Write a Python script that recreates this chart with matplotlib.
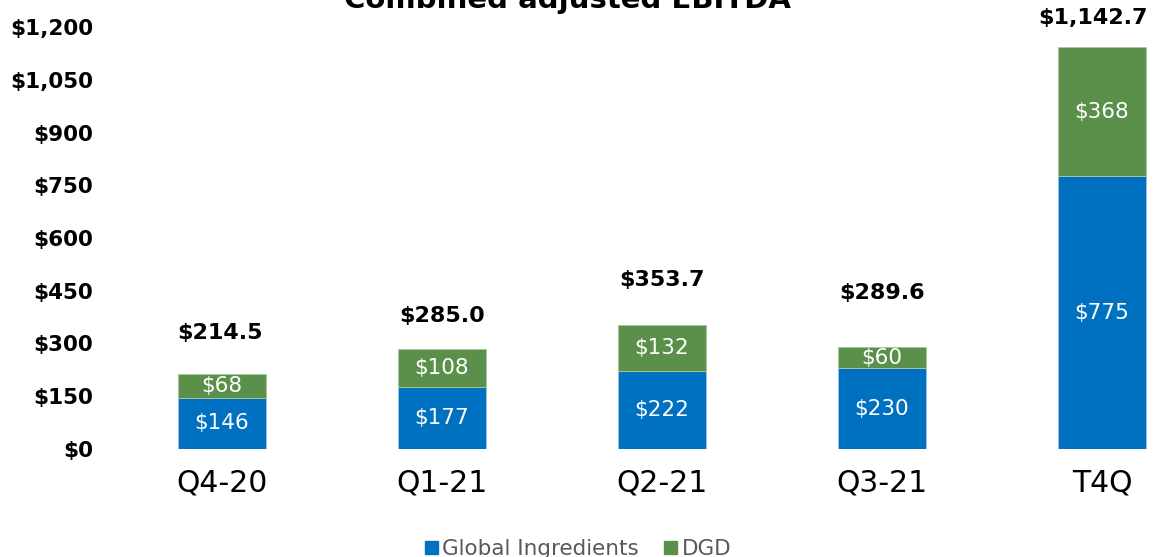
import matplotlib
matplotlib.use("Agg")
import matplotlib.pyplot as plt
from matplotlib.patches import Patch

categories = ["Q4-20", "Q1-21", "Q2-21", "Q3-21", "T4Q"]
global_ingredients = [146, 177, 222, 230, 775]
dgd = [68, 108, 132, 60, 368]
totals = [214.5, 285.0, 353.7, 289.6, 1142.7]
yticks = [0, 150, 300, 450, 600, 750, 900, 1050, 1200]
label_offsets = [114, 94, 128, 154, 82]
label_dx = [-0.01, 0, 0, 0, -0.04]

blue = "#0070C0"
green = "#5B904B"

plt.rcParams['font.family'] = ['DejaVu Sans']
fig = plt.figure(figsize=(11.53, 5.57), dpi=100)
h_px = 557
ax = fig.add_axes([100 / 1153, (h_px - 449) / h_px, 1053 / 1153, (449 - 27) / h_px])
ax.set_ylim(0, 1200)
ax.set_xlim(-122 / 220, 4 + 51 / 220)

x = list(range(len(categories)))
w = 0.4
ax.bar(x, global_ingredients, width=w, color=blue, edgecolor="#9DC3E6", linewidth=0.6)
ax.bar(x, dgd, width=w, bottom=global_ingredients, color=green, edgecolor="#A9C89E", linewidth=0.6)

for i in x:
    ax.text(i, global_ingredients[i] / 2, f"${global_ingredients[i]}", ha="center", va="center",
            color="white", fontsize=15.5)
    ax.text(i, global_ingredients[i] + dgd[i] / 2, f"${dgd[i]}", ha="center", va="center",
            color="white", fontsize=15.5)
    ax.text(i + label_dx[i], totals[i] + label_offsets[i], f"${totals[i]:,.1f}", ha="center",
            va="center", color="black", fontsize=16, fontweight="bold", clip_on=False)

ax.set_yticks(yticks)
ax.set_yticklabels([f"${v:,}" for v in yticks], fontsize=15.5, fontweight="bold")
ax.set_xticks(x)
ax.set_xticklabels(categories, fontsize=21.5)
ax.tick_params(axis="both", length=0)
ax.tick_params(axis="x", pad=14)
ax.tick_params(axis="y", pad=5)
for s in ax.spines.values():
    s.set_visible(False)

fig.text(567 / 1153, 1 - 8 / h_px, "Combined adjusted EBITDA", ha="center", va="baseline",
         fontsize=21, fontweight="bold")

handles = [Patch(color=blue, label="Global Ingredients"), Patch(color=green, label="DGD")]
leg = fig.legend(handles=handles, loc="center", bbox_to_anchor=(578 / 1153, 1 - 549 / h_px),
                 ncol=2, frameon=False, fontsize=15.5, handlelength=0.6, handleheight=0.6,
                 handletextpad=0.2, columnspacing=1.2)
for t in leg.get_texts():
    t.set_color("#595959")

fig.savefig("out.png", dpi=100)
